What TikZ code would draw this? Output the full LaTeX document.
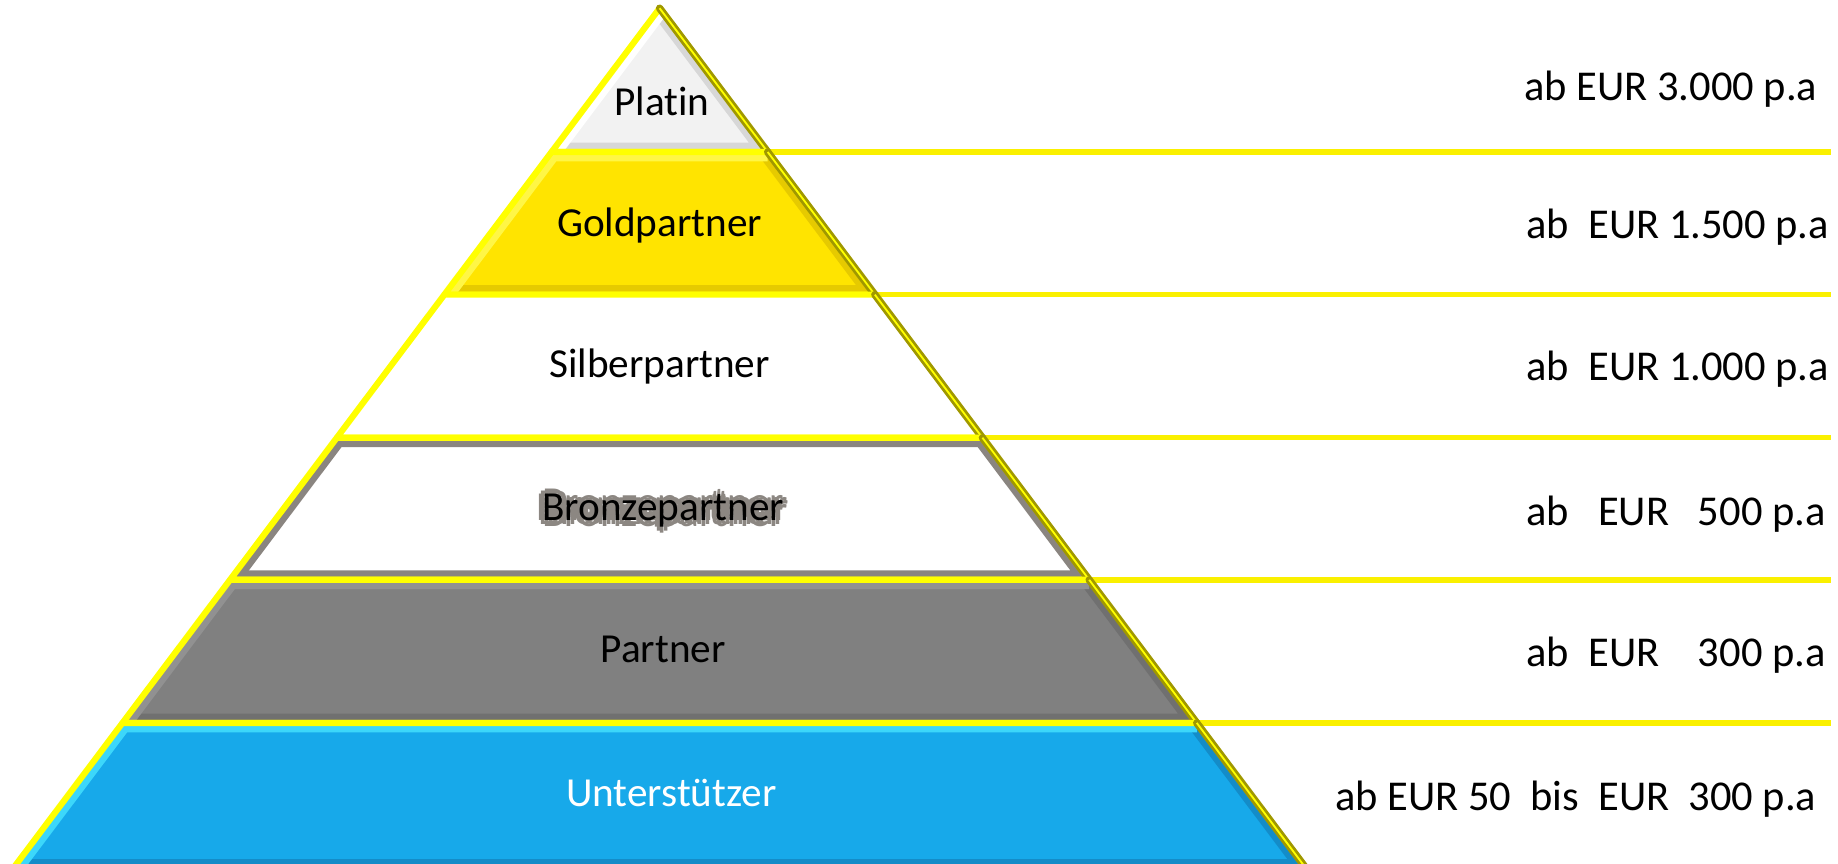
\documentclass[tikz,border=0pt]{standalone}
\usepackage{fontspec}
\setmainfont{Carlito}[Ligatures=NoCommon]
\usetikzlibrary{calc}

\definecolor{platin}{RGB}{242,242,242}
\definecolor{platinlight}{RGB}{255,255,255}
\definecolor{platindark}{RGB}{215,215,215}
\definecolor{gold}{RGB}{255,228,0}
\definecolor{goldlight}{RGB}{255,246,70}
\definecolor{golddark}{RGB}{230,202,0}
\definecolor{bronzegray}{RGB}{138,133,128}
\definecolor{partnergray}{RGB}{128,128,128}
\definecolor{partnerlight}{RGB}{145,145,145}
\definecolor{partnerdark}{RGB}{112,112,112}
\definecolor{support}{RGB}{23,169,234}
\definecolor{supportlight}{RGB}{60,215,250}
\definecolor{supportdark}{RGB}{20,140,200}
\definecolor{edgeyellow}{RGB}{255,255,0}
\definecolor{edgeolive}{RGB}{160,152,0}
\definecolor{lineyellow}{RGB}{250,240,0}
\definecolor{glowgray}{RGB}{140,135,130}

\tikzset{
  tier/.style={draw=edgeyellow, line width=1.5pt, line join=round},
  shade edge/.style={draw=edgeolive, line width=1.8pt, line cap=round},
  tierlabel/.style={font=\fontsize{10}{12}\selectfont, inner sep=0pt, anchor=base},
  price/.style={font=\fontsize{10.3}{12}\selectfont, inner sep=0pt, anchor=base west},
  level/.style={draw=lineyellow, line width=1.3pt}
}

\begin{document}
\begin{tikzpicture}
  \useasboundingbox (0,-0.02) rectangle (15.66,7.34);
  \coordinate (apex) at (5.62,7.27);
  \coordinate (baseL) at (0.149,-0.01);
  \coordinate (baseR) at (11.091,-0.01);
  \coordinate (rim) at (15.60,0);
  % level lines to the right
  \foreach \t [count=\i] in {0.1683,0.3352,0.5027,0.6690,0.8365}{
    \coordinate (edge\i) at ($(apex)!\t!(baseR)$);
    \draw[level] (edge\i) -- (edge\i -| rim);
  }
  % pyramid tiers, top to bottom (the last one runs past the lower border)
  \foreach \ta/\tb/\fc/\lc/\dc in {0/0.1683/platin/platinlight/platindark,
      0.1683/0.3352/gold/goldlight/golddark, 0.3352/0.5027/white/white/white,
      0.5027/0.6690/white/bronzegray/bronzegray,
      0.6690/0.8365/partnergray/partnerlight/partnerdark,
      0.8365/1.007/support/supportlight/supportdark}{
    \coordinate (tl) at ($(apex)!\ta!(baseL)$);
    \coordinate (bl) at ($(apex)!\tb!(baseL)$);
    \coordinate (br) at ($(apex)!\tb!(baseR)$);
    \coordinate (tr) at ($(apex)!\ta!(baseR)$);
    \begin{scope}
      \clip (tl) -- (bl) -- (br) -- (tr) -- cycle;
      \fill[\fc] (tl) -- (bl) -- (br) -- (tr) -- cycle;
      \draw[\dc, line width=0.16cm] (bl) -- (br) -- (tr);
      \draw[\lc, line width=0.16cm] (bl) -- (tl) -- (tr);
    \end{scope}
    \draw[tier] (tl) -- (bl) -- (br) -- (tr) -- cycle;
    \draw[shade edge] (tr) -- (br);
    \draw[edgeyellow, line width=0.45pt] (tr) -- (br);
  }
  % tier names
  \node[tierlabel] (platinName) at (5.64,6.355) {Platin};
  \node[tierlabel] (goldName) at (5.62,5.327) {Goldpartner};
  \node[tierlabel] (silberName) at (5.62,4.12) {Silberpartner};
  \foreach \a in {0,45,...,315}
    \node[tierlabel, text=glowgray] (glow\a) at ($(5.65,2.902)+(\a:1.3pt)$) {Bronzepartner};
  \node[tierlabel] (bronzeName) at (5.65,2.902) {Bronzepartner};
  \node[tierlabel] (partnerName) at (5.65,1.698) {Partner};
  \node[tierlabel, text=white] (supportName) at (5.72,0.466) {Unterstützer};
  % prices
  \node[price] (platinPrice) at (12.98,6.487) {ab EUR 3.000 p.a};
  \node[price] (goldPrice) at (13.00,5.31) {ab~~EUR 1.500 p.a};
  \node[price] (silberPrice) at (13.00,4.10) {ab~~EUR 1.000 p.a};
  \node[price] (bronzePrice) at (13.00,2.86) {ab~~~EUR~~~500 p.a};
  \node[price] (partnerPrice) at (13.00,1.664) {ab~~EUR~~~~300 p.a};
  \node[price] (supportPrice) at (11.37,0.435) {ab EUR 50~~bis~~EUR~~300 p.a};
\end{tikzpicture}
\end{document}
